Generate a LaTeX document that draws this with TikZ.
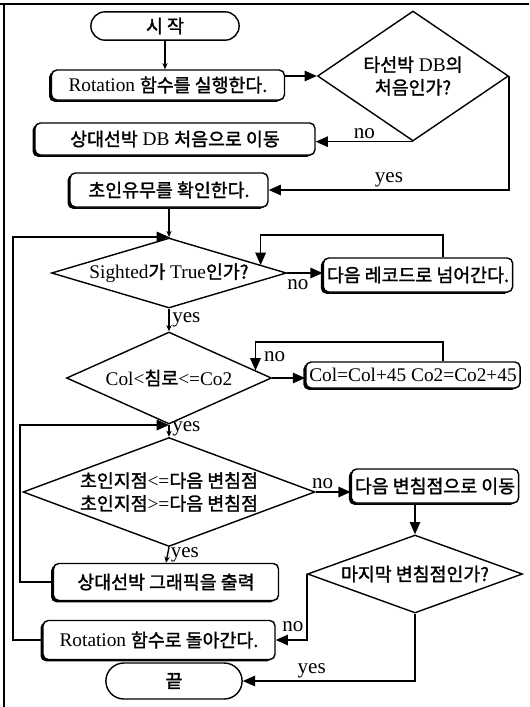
\documentclass[tikz,border=0pt]{standalone}
\usepackage{fontspec}
\setmainfont{Liberation Serif}
\newfontfamily\kr{Noto Sans CJK KR}[Scale=0.95, FakeBold=1.6]
\usetikzlibrary{arrows.meta, shapes.geometric, shapes.misc, shadows}

\begin{document}
\begin{tikzpicture}[
    x=0.02cm, y=-0.02cm,
    line width=0.8pt,
    every node/.style = {font=\fontsize{11}{13}\selectfont},
    term/.style = {draw, rounded rectangle, fill=white},
    proc/.style = {draw, rounded corners=3pt, fill=white, inner sep=2pt,
                   general shadow={fill=black, shadow xshift=-1.4pt, shadow yshift=-1pt}},
    test/.style = {draw, diamond, inner sep=0pt, align=center},
    flow/.style = {-{Triangle[length=7pt, width=6pt]}},
    tick/.style = {-{Stealth[length=3.5pt, width=3pt]}},
    lbl/.style  = {inner sep=1.5pt, font=\fontsize{12}{14}\selectfont}
  ]
  \useasboundingbox (0,0) rectangle (529,707);
  % frame
  \draw[line width=0.6pt] (0,4) -- (529,4);
  \draw[line width=0.6pt] (4,4) -- (4,707);

  % main column
  \node[term, minimum width=3.2cm, minimum height=0.56cm] (start) at (165,26) {\kr 시 작};
  \node[proc, minimum width=4.66cm, minimum height=0.6cm] (rot) at (168,85) {Rotation {\kr 함수를 실행한다.}};
  \node[test, aspect=1.47, minimum width=3.82cm, minimum height=2.6cm] (first) at (413,76) {{\kr 타선박} DB{\kr 의}\\{\kr 처음인가?}};
  \node[proc, minimum width=5.6cm, minimum height=0.64cm] (reset) at (175,139) {{\kr 상대선박} DB {\kr 처음으로 이동}};
  \node[proc, minimum width=3.96cm, minimum height=0.68cm] (check) at (169,190) {\kr 초인유무를 확인한다.};
  \coordinate (j1) at (169,237);
  \node[test, aspect=3.36, minimum width=4.7cm, minimum height=1.4cm] (sighted) at (169,273) {Sighted{\kr 가} True{\kr 인가?}};
  \node[proc, minimum width=3.66cm, minimum height=0.68cm] (skip) at (418,275) {\kr 다음 레코드로 넘어간다.};
  \node[test, aspect=2.23, minimum width=4.1cm, minimum height=1.84cm] (course) at (169,378) {Col<{\kr 침로}<=Co2};
  \node[proc, minimum width=3.82cm, minimum height=0.52cm] (shift) at (413,375) {Col=Col+45 Co2=Co2+45};
  \coordinate (j2) at (169,425);
  \node[test, aspect=2.68, minimum width=5.84cm, minimum height=2.18cm] (cross) at (169,492)
    {{\kr 초인지점}<={\kr 다음 변침점}\\{\kr 초인지점}>={\kr 다음 변침점}};
  \node[proc, minimum width=3.34cm, minimum height=0.68cm] (nextpt) at (435,486) {\kr 다음 변침점으로 이동};
  \node[test, aspect=2.73, minimum width=4.3cm, minimum height=1.56cm] (last) at (415,574) {\kr 마지막 변침점인가?};
  \node[proc, minimum width=4.5cm, minimum height=0.74cm] (plot) at (166,582) {\kr 상대선박 그래픽을 출력};
  \node[proc, minimum width=4.64cm, minimum height=0.78cm] (back) at (159,640) {Rotation {\kr 함수로 돌아간다.}};
  \node[term, minimum width=2.96cm, minimum height=0.72cm] (stop) at (174,681) {\kr 끝};

  % loop corners
  \coordinate (loopA) at (13,237);
  \coordinate (loopB) at (20,425);
  \coordinate (skipup) at (443,235);
  \coordinate (shiftup) at (443,342);

  % connectors
  \draw[tick] (start.south) -- (start.south |- rot.north);
  \draw[flow] (rot.east |- first.west) -- (first.west);
  \draw[flow] (first.south) -- (first.south -| reset.east) node[lbl, midway, above] {no};
  \draw[flow] (first.east) |- (check.east) node[lbl, pos=0.75, above] {yes};
  \draw[tick] (check.south) -- (j1);
  \draw (j1) -- (sighted.north);
  \draw[flow] (back.west) -| (loopA) -- (j1);
  \draw[flow] (sighted.east) -- (sighted.east -| skip.west) node[lbl, pos=0.3, below=2pt] {no};
  \draw[flow] (skip.north -| skipup) -- (skipup) -| (sighted.5);
  \draw[tick] (sighted.south) -- (course.north) node[lbl, midway, right] {yes};
  \draw[flow] (course.east) -- (course.east -| shift.west);
  \draw[flow] (shift.north -| shiftup) -- (shiftup) -| (course.5) node[lbl, pos=0.75, right=3pt] {no};
  \draw[tick] (course.south) -- (cross.north) node[lbl, pos=0.3, right] {yes};
  \draw[flow] (plot.west) -| (loopB) -- (j2);
  \draw[flow] (cross.east) -- (cross.east -| nextpt.west) node[lbl, pos=0.2, above] {no};
  \draw[flow] (last.north |- nextpt.south) -- (last.north);
  \draw[tick] (cross.south) -- (plot.north) node[lbl, midway, right] {yes};
  \draw[flow] (last.west) |- (back.east) node[lbl, pos=0.4, left] {no};
  \draw[flow] (last.south) |- (stop.east) node[lbl, pos=0.8, above] {yes};
\end{tikzpicture}
\end{document}
